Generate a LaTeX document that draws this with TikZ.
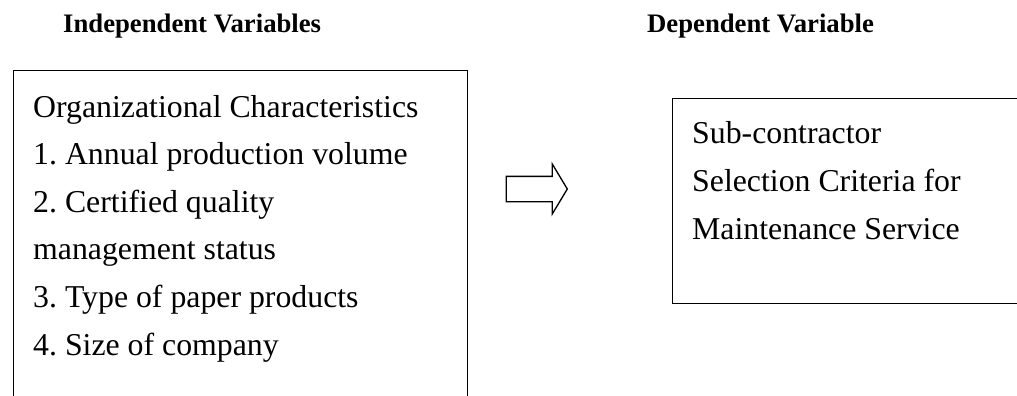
\documentclass[tikz,border=0pt]{standalone}
\usepackage{fontspec}
\setmainfont{Liberation Serif}
\frenchspacing
\usetikzlibrary{positioning,shapes.arrows}
\tikzset{
    frame/.style ={
        shape=rectangle,
        draw=black,
        line width=1.4pt,
        inner sep=0pt
    },
    heading/.style ={
        font=\bfseries\fontsize{26.7}{32}\selectfont,
        inner sep=0pt
    },
    lines/.style ={
        font=\fontsize{31.8}{47.6}\selectfont,
        align=left,
        inner sep=0pt
    },
    hollow/.style ={
        shape=single arrow,
        draw=black,
        line width=1.3pt,
        inner sep=0pt,
        text height=12pt,
        text depth=12pt,
        minimum width=49pt,
        minimum height=61pt,
        single arrow head extend=12.5pt,
        single arrow tip angle=118
    }
}

\begin{document}
\begin{tikzpicture}[x=1pt,y=-1pt]
    \useasboundingbox (0,0) rectangle (1017,396);
    \clip (0,0) rectangle (1017,396);
    \node[heading,anchor=base west] (indep) at(63,33) {Independent Variables};
    \node[heading,anchor=base west] (dep) at(647,33) {Dependent Variable};
    \node[frame,anchor=north west,minimum width=454pt,minimum height=360pt] (orgbox) at(13,70) {};
    \node[frame,anchor=north west,minimum width=400pt,minimum height=205pt] (critbox) at(672,98) {};
    % base anchor sits on the last line
    \node[lines,anchor=base west] (orgtext) at(33,355) {Organizational Characteristics\\
        1. Annual production volume\\
        2. Certified quality\\
        management status\\
        3. Type of paper products\\
        4. Size of company};
    \node[lines,anchor=base west] (crittext) at(692,239) {Sub-contractor\\
        Selection Criteria for\\
        Maintenance Service};
    \node[hollow] (link) at(533,189) {};
\end{tikzpicture}
\end{document}
